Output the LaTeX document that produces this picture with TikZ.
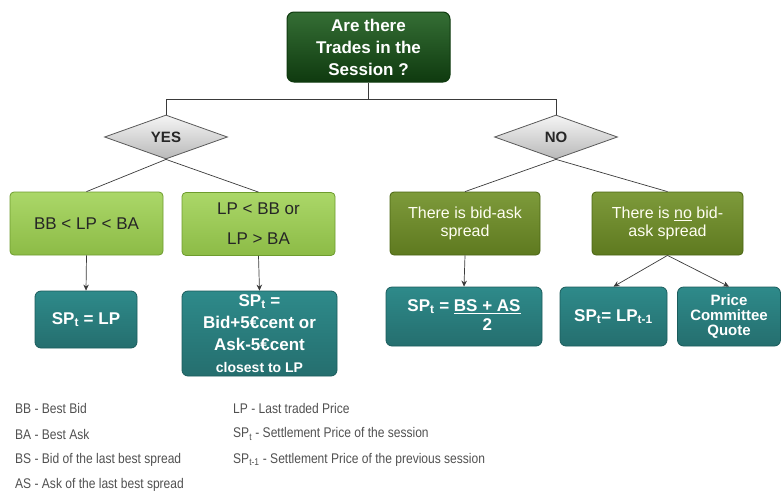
\documentclass[tikz,border=0pt]{standalone}
\usepackage{fontspec}
\setmainfont{Liberation Sans}
\usetikzlibrary{arrows.meta,shapes.geometric}
\definecolor{topc}{HTML}{1E5E1E}
\definecolor{topdk}{HTML}{0F3A0F}
\definecolor{limec}{HTML}{9CD04E}
\definecolor{limedk}{HTML}{6E9C2E}
\definecolor{olivec}{HTML}{6F8F25}
\definecolor{olivedk}{HTML}{4A6512}
\definecolor{tealc}{HTML}{2E8A8A}
\definecolor{tealdk}{HTML}{1B5C5C}
\definecolor{linec}{HTML}{3A3A3A}
\definecolor{keyc}{HTML}{505050}
\newcommand\keytxt[1]{\scalebox{0.86}[1]{#1}}
\tikzset{
  ln/.style={draw=linec,line width=0.7pt},
  ar/.style={ln,-{Stealth[length=6pt,width=5.5pt]}},
  qbox/.style={draw=topdk,line width=1pt,rounded corners=7pt,top color=topc!90!white,bottom color=topdk,
    text=white,font=\fontsize{17}{22}\selectfont\bfseries,align=center,minimum width=163pt,minimum height=70pt},
  dec/.style={diamond,draw=gray!70!black,line width=0.8pt,top color=gray!8,bottom color=gray!55,
    inner sep=0pt,minimum width=123pt,minimum height=44pt,font=\fontsize{15}{18}\selectfont\bfseries,text=black!85},
  lbox/.style={draw=limedk,line width=0.8pt,rounded corners=4pt,top color=limec!85!white,bottom color=limec!90!black,
    text=black!85,font=\fontsize{17}{22}\selectfont,align=center,minimum height=63pt},
  obox/.style={draw=olivedk,line width=0.8pt,rounded corners=4pt,top color=olivec!90!white,bottom color=olivec!85!black,
    text=white!95!yellow,font=\fontsize{16}{18}\selectfont,align=center,minimum height=63pt},
  tbox/.style={draw=tealdk,line width=0.8pt,rounded corners=6pt,top color=tealc,bottom color=tealc!80!black,
    text=white,font=\fontsize{17}{22}\selectfont\bfseries,align=center,minimum height=59pt},
  key/.style={anchor=west,inner sep=0pt,text=keyc,font=\fontsize{14}{16}\selectfont}
}

\begin{document}
\begin{tikzpicture}[x=1pt,y=-1pt]
\useasboundingbox (0,0) rectangle (781,493);
\node[qbox] (q) at (368.5,47) {Are there\\Trades in the\\Session ?};
\node[dec] (yes) at (166,137) {YES};
\node[dec] (no) at (556,137) {NO};
\node[lbox,minimum width=153pt] (c1) at (86.5,223.5) {BB < LP < BA};
\node[lbox,minimum width=153pt] (c2) at (258.5,224) {LP < BB or\\[8pt]LP > BA};
\node[obox,minimum width=150pt] (c3) at (465,223.5) {There is bid-ask\\spread};
\node[obox,minimum width=151pt] (c4) at (667.5,223.5) {There is \underline{no} bid-\\ask spread};
\node[tbox,minimum width=102pt,minimum height=57pt] (r1) at (86,319.5) {SP\textsubscript{t} = LP};
\node[tbox,minimum width=155pt,minimum height=85pt,inner sep=1pt] (r2) at (259.5,333.5)
  {SP\textsubscript{t} =\\Bid+5€cent or\\Ask-5€cent\\{\fontsize{14}{16}\selectfont closest to LP}};
\node[tbox,minimum width=156pt] (r3) at (464,316.5)
  {SP\textsubscript{t} = \begin{tabular}[t]{@{}c@{}}\underline{BS + AS}\\[-3pt]2\end{tabular}};
\node[tbox,minimum width=107pt] (r4) at (613.5,316.5) {SP\textsubscript{t}= LP\textsubscript{t-1}};
\node[tbox,minimum width=103pt,font=\fontsize{15}{15}\selectfont\bfseries] (r5) at (729,316.5) {Price\\Committee\\Quote};
\draw[ln] (q.south) -- ++(0,17) -| (yes.north);
\draw[ln] (q.south) -- ++(0,17) -| (no.north);
\draw[ln] (yes.south) -- (c1.north);
\draw[ln] (yes.south) -- (c2.north);
\draw[ln] (no.south) -- (c3.north);
\draw[ln] (no.south) -- (c4.north);
\draw[ar] (c1.south) -- (r1.north);
\draw[ar] (c2.south) -- (r2.north);
\draw[ar] (c3.south) -- (r3.north);
\draw[ar] (c4.south) -- (r4.north);
\draw[ar] (c4.south) -- (r5.north);
\node[key] (k1) at (15,408) {\keytxt{BB - Best Bid}};
\node[key] (k2) at (15,434) {\keytxt{BA - Best Ask}};
\node[key] (k3) at (15,460) {\keytxt{BS - Bid of the last best spread}};
\node[key] (k4) at (15,485) {\keytxt{AS - Ask of the last best spread}};
\node[key] (k5) at (233,408) {\keytxt{LP - Last traded Price}};
\node[key] (k6) at (233,434) {\keytxt{SP\textsubscript{t} - Settlement Price of the session}};
\node[key] (k7) at (233,460) {\keytxt{SP\textsubscript{t-1} - Settlement Price of the previous session}};
\end{tikzpicture}
\end{document}
